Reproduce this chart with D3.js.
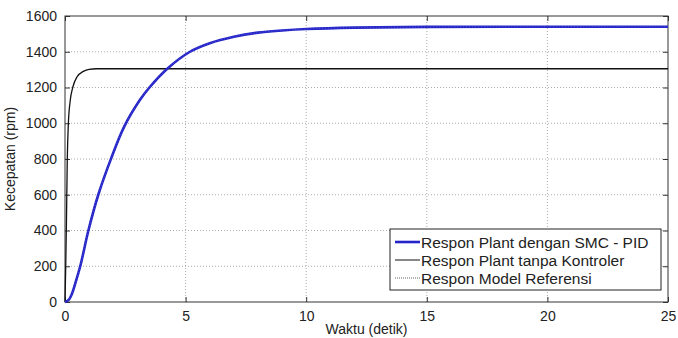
<!DOCTYPE html>
<html>
<head>
<meta charset="utf-8">
<script src="https://cdn.jsdelivr.net/npm/d3@7"></script>
<style>
  body { margin: 0; background: #fff; }
  text { font-family: "Liberation Sans", Arial, sans-serif; }
</style>
</head>
<body>
<div id="chart"></div>
<script>
// data
var timeSmc = [0, 0.15, 0.3, 0.45, 0.65, 0.97, 1.38, 1.89, 2.45, 3.11, 3.5, 4.24, 5.18, 6, 7, 8, 9, 10, 12, 15, 20, 25];
var speedSmc = [0, 12, 50, 115, 210, 400, 600, 795, 980, 1131, 1200, 1305, 1400, 1448, 1484, 1507, 1519, 1527, 1535, 1539, 1540, 1540];
var timePlant = [0, 0.03, 0.06, 0.095, 0.14, 0.22, 0.32, 0.5, 0.76, 1.0, 1.3, 5, 10, 25];
var speedPlant = [0, 200, 450, 800, 1000, 1130, 1200, 1260, 1290, 1302, 1305, 1305, 1305, 1305];
var xTicks = [0, 5, 10, 15, 20, 25];
var yTicks = [0, 200, 400, 600, 800, 1000, 1200, 1400, 1600];
var legendLabels = ["Respon Plant dengan SMC - PID", "Respon Plant tanpa Kontroler", "Respon Model Referensi"];

var svgWidth = 678;
var svgHeight = 338;
var margin = {top: 16, right: 10, bottom: 36, left: 65};
var width = svgWidth - margin.left - margin.right;
var height = svgHeight - margin.top - margin.bottom;

var svg = d3.select("#chart")
  .append("svg")
  .attr("width", svgWidth)
  .attr("height", svgHeight)
  .append("g")
  .attr("transform", "translate(" + margin.left + "," + margin.top + ")");

var x = d3.scaleLinear().domain([0, 25]).range([0, width]);
var y = d3.scaleLinear().domain([0, 1600]).range([height, 0]);

// grid
svg.append("g").selectAll("line")
  .data(xTicks.slice(1, -1))
  .enter().append("line")
  .attr("x1", function(d) { return x(d); })
  .attr("x2", function(d) { return x(d); })
  .attr("y1", 0).attr("y2", height)
  .attr("stroke", "#888").attr("stroke-width", 0.7)
  .attr("stroke-dasharray", "1,2");
svg.append("g").selectAll("line")
  .data(yTicks.slice(1, -1))
  .enter().append("line")
  .attr("y1", function(d) { return y(d); })
  .attr("y2", function(d) { return y(d); })
  .attr("x1", 0).attr("x2", width)
  .attr("stroke", "#888").attr("stroke-width", 0.7)
  .attr("stroke-dasharray", "1,2");

// axes with inward ticks
var fmt = d3.format("d");
var bottomAxis = d3.axisBottom(x).tickValues(xTicks).tickFormat(fmt).tickSizeInner(-5).tickSizeOuter(0).tickPadding(9);
var leftAxis = d3.axisLeft(y).tickValues(yTicks).tickFormat(fmt).tickSizeInner(-5).tickSizeOuter(0).tickPadding(8);
var topAxis = d3.axisTop(x).tickValues(xTicks).tickSizeInner(-5).tickSizeOuter(0).tickFormat("");
var rightAxis = d3.axisRight(y).tickValues(yTicks).tickSizeInner(-5).tickSizeOuter(0).tickFormat("");

svg.append("g").attr("transform", "translate(0," + height + ")").call(bottomAxis);
svg.append("g").call(leftAxis);
svg.append("g").call(topAxis);
svg.append("g").attr("transform", "translate(" + width + ",0)").call(rightAxis);

svg.selectAll(".domain").remove();
svg.selectAll(".tick line").attr("stroke", "#333");
svg.selectAll(".tick text").attr("font-size", 14).attr("fill", "#222")
  .style("font-family", "'Liberation Sans', Arial, sans-serif");

// frame
svg.append("rect")
  .attr("x", 0).attr("y", 0).attr("width", width).attr("height", height)
  .attr("fill", "none").attr("stroke", "#333").attr("stroke-width", 1);

// lines
var smcPoints = timeSmc.map(function(t, i) { return [t, speedSmc[i]]; });
var plantPoints = timePlant.map(function(t, i) { return [t, speedPlant[i]]; });
var line = d3.line()
  .x(function(d) { return x(d[0]); })
  .y(function(d) { return y(d[1]); })
  .curve(d3.curveMonotoneX);
var smoothLine = d3.line()
  .x(function(d) { return x(d[0]); })
  .y(function(d) { return y(d[1]); })
  .curve(d3.curveCatmullRom.alpha(0.5));

svg.append("path").datum(plantPoints)
  .attr("d", line).attr("fill", "none")
  .attr("stroke", "#111").attr("stroke-width", 1.3);

svg.append("path").datum(smcPoints)
  .attr("d", smoothLine).attr("fill", "none")
  .attr("stroke", "#2424c8").attr("stroke-width", 2.6);

// reference model lies under the SMC response
svg.append("path").datum(smcPoints)
  .attr("d", smoothLine).attr("fill", "none")
  .attr("stroke", "#7070d8").attr("stroke-width", 0.6)
  .attr("stroke-dasharray", "1,2");

// axis labels
svg.append("text")
  .attr("transform", "rotate(-90)")
  .attr("x", -height / 2).attr("y", -50)
  .attr("text-anchor", "middle")
  .attr("font-size", 14).attr("fill", "#222")
  .text("Kecepatan (rpm)");

svg.append("text")
  .attr("x", width / 2).attr("y", height + 32)
  .attr("text-anchor", "middle")
  .attr("font-size", 14).attr("fill", "#222")
  .text("Waktu (detik)");

// legend
var legend = svg.append("g").attr("transform", "translate(" + (390 - margin.left) + "," + (229 - margin.top) + ")");
legend.append("rect")
  .attr("width", 271).attr("height", 61)
  .attr("fill", "#fff").attr("stroke", "#222").attr("stroke-width", 1);
var legendStyles = [
  {color: "#2424c8", w: 2.6, dash: null},
  {color: "#111", w: 1, dash: null},
  {color: "#999", w: 1.3, dash: "1,1"}
];
legendLabels.forEach(function(label, i) {
  var yy = 13 + i * 18;
  legend.append("line")
    .attr("x1", 5).attr("x2", 30).attr("y1", yy).attr("y2", yy)
    .attr("stroke", legendStyles[i].color)
    .attr("stroke-width", legendStyles[i].w)
    .attr("stroke-dasharray", legendStyles[i].dash);
  legend.append("text")
    .attr("x", 31).attr("y", yy + 5.5)
    .attr("font-size", 15.5).attr("fill", "#222")
    .text(label);
});
</script>
</body>
</html>
